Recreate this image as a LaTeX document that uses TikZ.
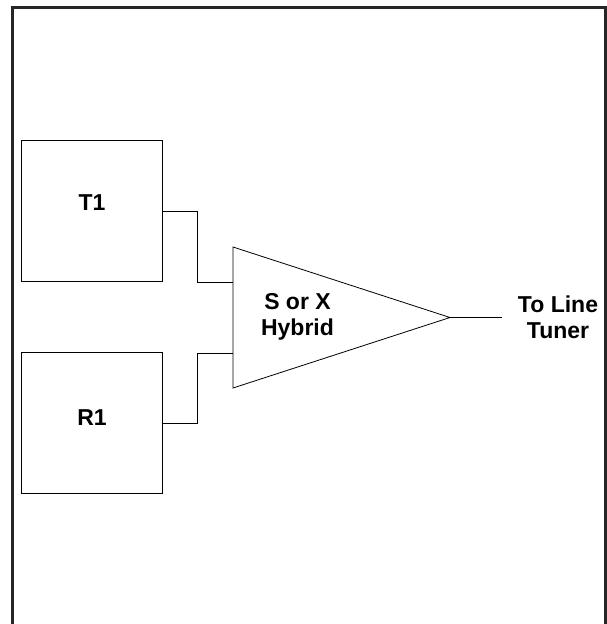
\documentclass[tikz,border=0pt]{standalone}
\usepackage{fontspec}
\setmainfont{Liberation Sans}
\begin{document}
\begin{tikzpicture}[x=1pt,y=-1pt,line width=0.8pt]
	\useasboundingbox (0,0) rectangle (607,624);
	\tikzset{every node/.style={font=\fontsize{23}{26.5}\selectfont\bfseries,align=center}}
	\draw[line width=2.8pt,color=black!85] (12.5,624) -- (12.5,7.5) -- (605.5,7.5) -- (605.5,624);
	\begin{scope}[every node/.style={draw,inner sep=0pt,minimum size=141.5pt}]
	\node (T) at (91.75,211) {};
	\node (R) at (91.75,423) {};
	\end{scope}
	\node (Tlabel) at (92,203) {T1};
	\node (Rlabel) at (92,418) {R1};
	\coordinate (A) at (233,247);
	\coordinate (B) at (233,388);
	\coordinate (C) at (450,317.5);
	\draw (A) -- (B) -- (C) -- cycle;
	\coordinate (In1) at (233,282);
	\coordinate (In2) at (233,353);
	\coordinate (Out) at (501.5,317.5);
	\draw (T.east) -- ++(34.5,0) |- (In1);
	\draw (R.east) -- ++(34.5,0) |- (In2);
	\draw (C) -- (Out);
	\node (H) at (297.5,317) {S or X\\Hybrid};
	\node (L) at (558,317.5) {To Line\\Tuner};
\end{tikzpicture}
\end{document}
